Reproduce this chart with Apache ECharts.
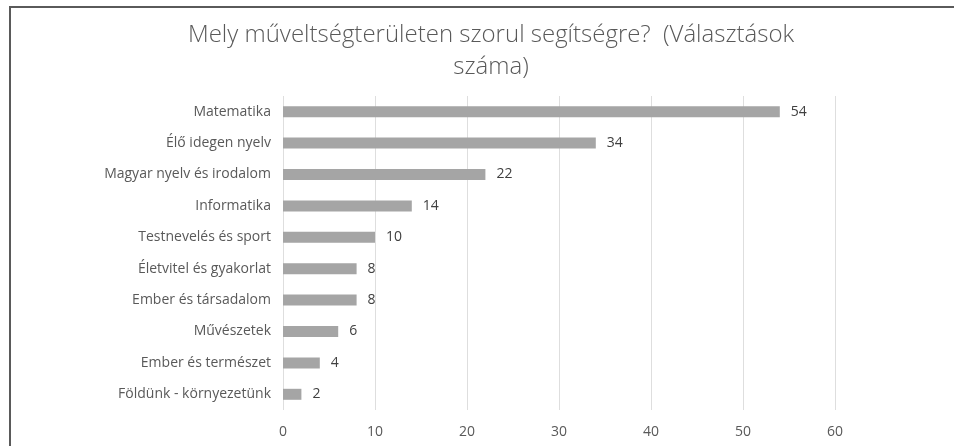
<!DOCTYPE html>
<html lang="hu">
  <head>
    <meta charset="UTF-8" />
    <title>eCharts</title>
    <script src="https://cdn.jsdelivr.net/npm/echarts@6/dist/echarts.min.js"></script>
    <style>
      body { margin: 0; background: #fff; }
    </style>
  </head>
  <body>
    <div id="main" style="width: 954px; height: 446px"></div>
    <script type="text/javascript">
      const categories = [
        "Matematika",
        "Élő idegen nyelv",
        "Magyar nyelv és irodalom",
        "Informatika",
        "Testnevelés és sport",
        "Életvitel és gyakorlat",
        "Ember és társadalom",
        "Művészetek",
        "Ember és természet",
        "Földünk - környezetünk",
      ];
      const counts = [54, 34, 22, 14, 10, 8, 8, 6, 4, 2];
      const xTicks = { min: 0, max: 60, interval: 10 };

      let myChart = echarts.init(document.getElementById("main"));

      let options = {
        animation: false,
        textStyle: { fontFamily: "Open Sans" },
        graphic: [
          {
            type: "polyline",
            shape: { points: [[10, 460], [10, 7], [960, 7]] },
            style: { stroke: "#5a5a5a", lineWidth: 2, fill: null },
          },
        ],
        title: {
          text: "Mely műveltségterületen szorul segítségre?  (Választások\nszáma)",
          left: 486,
          textAlign: "center",
          top: 14,
          textStyle: {
            fontFamily: "Open Sans",
            fontWeight: 300,
            fontSize: 24,
            lineHeight: 32,
            color: "#595959",
          },
        },
        grid: { left: 283, right: 119, top: 96, bottom: 36, containLabel: false },
        xAxis: {
          type: "value",
          min: xTicks.min,
          max: xTicks.max,
          interval: xTicks.interval,
          axisLine: { show: false },
          axisTick: { show: false },
          splitLine: { lineStyle: { color: "#dedede", width: 1 } },
          axisLabel: { color: "#595959", fontSize: 14, margin: 15 },
        },
        yAxis: {
          type: "category",
          data: categories,
          inverse: true,
          axisLine: { show: false },
          axisTick: { show: false },
          axisLabel: { color: "#595959", fontSize: 14, margin: 12 },
        },
        series: [
          {
            type: "bar",
            data: counts,
            barWidth: 11,
            itemStyle: { color: "#a5a5a5" },
            label: {
              show: true,
              position: "right",
              distance: 11,
              color: "#404040",
              fontSize: 14,
            },
          },
        ],
      };

      myChart.setOption(options);
    </script>
  </body>
</html>
